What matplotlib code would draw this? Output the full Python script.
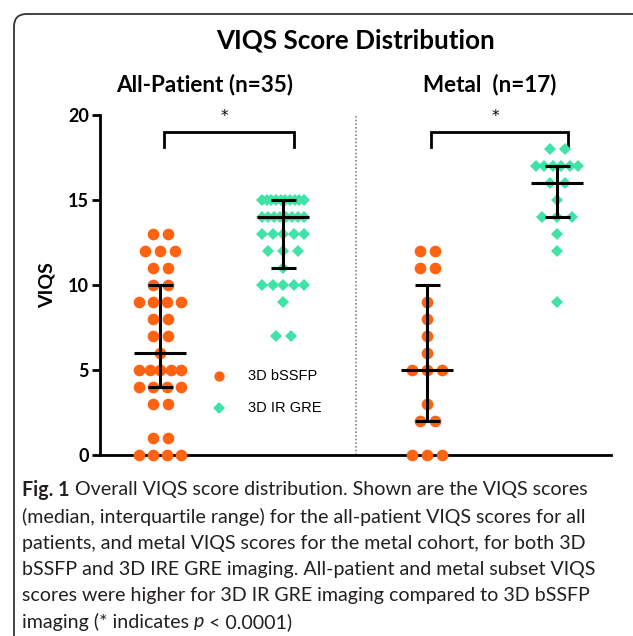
import numpy as np
import matplotlib
matplotlib.use("Agg")
import matplotlib.pyplot as plt
from matplotlib.patches import FancyBboxPatch

# ---------------- data ----------------
group_titles = ["All-Patient (n=35)", "Metal  (n=17)"]
series_names = ["3D bSSFP", "3D IR GRE"]
y_ticks = [0, 5, 10, 15, 20]

all_bssfp = [13]*2 + [12]*3 + [11]*2 + [10]*2 + [9]*4 + [8]*2 + [7]*2 + [6]*1 + [5]*5 + [4]*4 + [3]*2 + [1]*2 + [0]*4
all_gre = [15]*10 + [14]*8 + [13]*5 + [12]*3 + [11]*1 + [10]*5 + [9]*1 + [7]*2
metal_bssfp = [12]*2 + [11]*2 + [9] + [8] + [7] + [6] + [5]*3 + [3] + [2]*2 + [0]*3
metal_gre = [18]*2 + [17]*6 + [16]*2 + [15] + [14]*3 + [13] + [12] + [9]

sig_labels = ["*", "*"]

# ---------------- layout / style ----------------
W, H = 633, 636
fig = plt.figure(figsize=(W/100, H/100), dpi=100)

def fx(px): return px / W
def fy(py): return 1 - py / H

ax_l, ax_r, ax_t, ax_b = 100, 611, 115, 455
ax = fig.add_axes([fx(ax_l), fy(ax_b), fx(ax_r) - fx(ax_l), fy(ax_t) - fy(ax_b)])
UNIT = 125.0  # px per x data unit
ax.set_xlim(0, (ax_r - ax_l) / UNIT)
ax.set_ylim(0, 20)

positions = [0.48, 1.464, 2.616, 3.656]
datasets = [all_bssfp, all_gre, metal_bssfp, metal_gre]
colors = ["#FF6210", "#3FE3A6"]
markers = ["o", "D"]
msizes = [8.4, 6.2]
series_of = [0, 1, 0, 1]

for pos, data, s in zip(positions, datasets, series_of):
    vals = np.array(data)
    xs, ys = [], []
    for v in sorted(set(vals)):
        n = int((vals == v).sum())
        sp = 15.0 if n == 1 else min(15.0, 42.0 / (n - 1))
        offs = (np.arange(n) - (n - 1) / 2) * sp / UNIT
        xs.extend(pos + offs)
        ys.extend([v] * n)
    ax.plot(xs, ys, linestyle="none", marker=markers[s], color=colors[s],
            markersize=msizes[s], markeredgewidth=0, clip_on=False, zorder=3)
    q1, med, q3 = np.percentile(vals, [25, 50, 75], method="weibull")
    lw = 2.2
    ax.plot([pos - 26/UNIT, pos + 26/UNIT], [med, med], color="black", lw=lw, zorder=4,
            solid_capstyle="butt")
    ax.plot([pos, pos], [q1, q3], color="black", lw=lw, zorder=4)
    for q in (q1, q3):
        ax.plot([pos - 12.5/UNIT, pos + 12.5/UNIT], [q, q], color="black", lw=lw, zorder=4,
                solid_capstyle="butt")

# significance brackets
for i, lab in enumerate(sig_labels):
    a, b = positions[2*i], positions[2*i + 1]
    xl, xr = a + 4/UNIT, b + 11/UNIT
    ax.plot([xl, xl, xr, xr], [18.1, 19.0, 19.0, 18.1], color="black", lw=2,
            clip_on=False, solid_joinstyle="miter")
    ax.text((a + b) / 2 + 3/UNIT, 19.9, lab, ha="center", va="center", fontsize=11,
            family="DejaVu Sans")

# divider
ax.plot([(356 - ax_l)/UNIT]*2, [0, 20], color="#888888", lw=1.2, linestyle=(0, (1, 1.2)),
        clip_on=False)

# axes styling
for sp in ["top", "right"]:
    ax.spines[sp].set_visible(False)
ax.spines["left"].set_linewidth(2)
ax.spines["bottom"].set_linewidth(2)
ax.set_xticks([])
ax.set_yticks(y_ticks)
ax.set_yticklabels([str(t) for t in y_ticks], fontsize=13, fontweight="bold", family="Lato")
ax.tick_params(axis="y", direction="out", length=6, width=2, pad=2)
ax.set_ylabel("VIQS", fontsize=14, fontweight="bold", family="Lato", labelpad=9)
ax.patch.set_alpha(0)

# legend (manual)
for i, name in enumerate(series_names):
    yy = [376, 408][i]
    fig.lines.append(plt.Line2D([fx(219)], [fy(yy)], transform=fig.transFigure,
                                marker=markers[i], color=colors[i], markersize=msizes[i] - (1 if i == 0 else 0.5),
                                markeredgewidth=0, linestyle="none"))
    fig.text(fx(248), fy(yy), name, fontsize=10.5, family="Liberation Sans", va="center", ha="left")

# titles
fig.text(fx(356), fy(40), "VIQS Score Distribution", fontsize=18.7, fontweight="bold",
         family="Lato", ha="center", va="center")
fig.text(fx(205), fy(85), group_titles[0], fontsize=16.2, fontweight="bold",
         family="Lato", ha="center", va="center")
fig.text(fx(490), fy(85), group_titles[1], fontsize=16.2, fontweight="bold",
         family="Lato", ha="center", va="center")

# outer rounded border
box = FancyBboxPatch((fx(14), fy(660)), fx(680) - fx(14), fy(14) - fy(660),
                     boxstyle="round,pad=0,rounding_size=0.02", transform=fig.transFigure,
                     fill=False, edgecolor="#333333", lw=1.3)
fig.patches.append(box)

# caption
cap_font = "Lato"
cap_size = 14.1
cap_lines = [
    [("Fig. 1", "bold", "normal"), (" Overall VIQS score distribution. Shown are the VIQS scores", "normal", "normal")],
    [("(median, interquartile range) for the all-patient VIQS scores for all", "normal", "normal")],
    [("patients, and metal VIQS scores for the metal cohort, for both 3D", "normal", "normal")],
    [("bSSFP and 3D IRE GRE imaging. All-patient and metal subset VIQS", "normal", "normal")],
    [("scores were higher for 3D IR GRE imaging compared to 3D bSSFP", "normal", "normal")],
    [("imaging (* indicates ", "normal", "normal"), ("p", "normal", "italic"), (" < 0.0001)", "normal", "normal")],
]
cap_y = [490, 517, 543, 569, 596, 622]
renderer = fig.canvas.get_renderer()
for parts, yy in zip(cap_lines, cap_y):
    x = 22.0
    for txt, wt, st in parts:
        t = fig.text(fx(x), fy(yy), txt, fontsize=cap_size, family=cap_font, fontweight=wt,
                     style=st, ha="left", va="center", color="#231F20")
        bb = t.get_window_extent(renderer=renderer)
        x += bb.width

fig.savefig("out.png", dpi=100)
